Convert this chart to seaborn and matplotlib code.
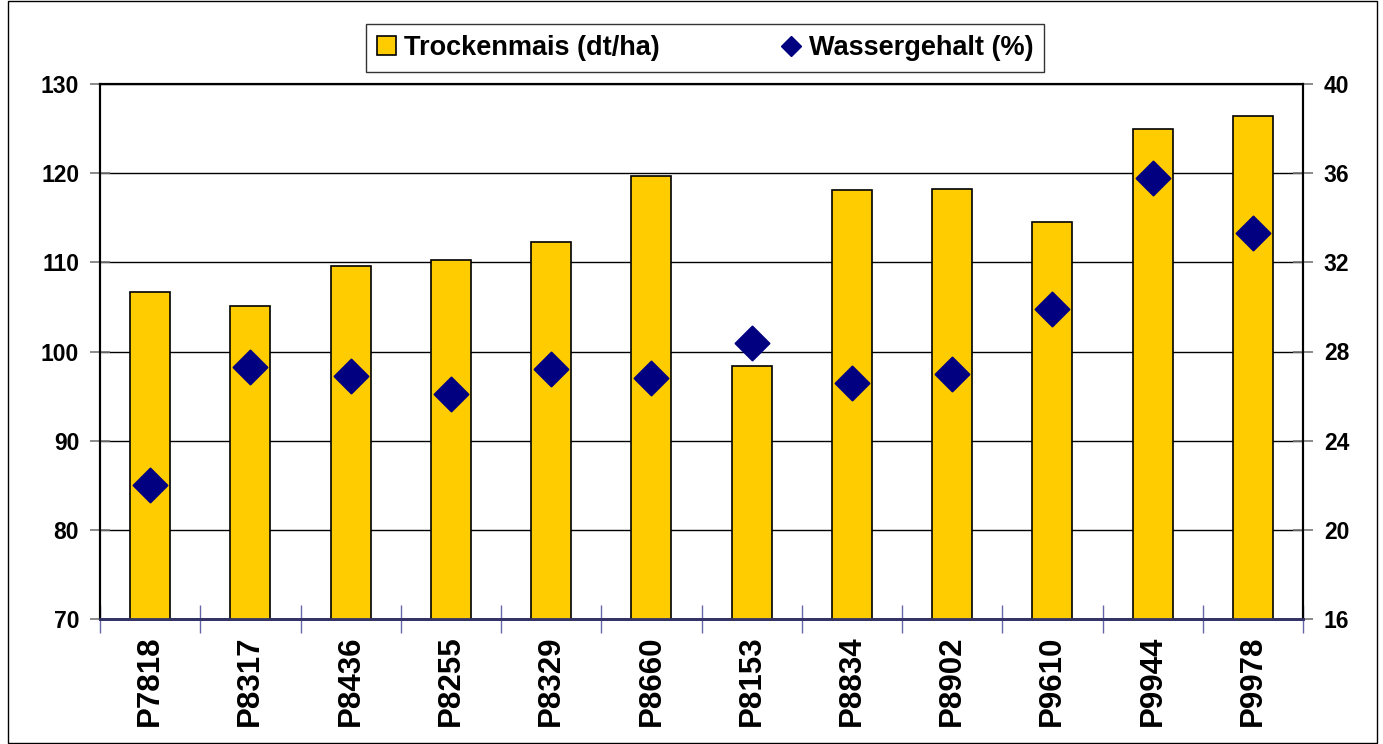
import pandas as pd
import seaborn as sns
import matplotlib.pyplot as plt
from matplotlib.lines import Line2D
from matplotlib.patches import Patch, Rectangle
from matplotlib.ticker import FixedLocator

# Sorten und Messwerte
sorten = ['P7818', 'P8317', 'P8436', 'P8255', 'P8329', 'P8660',
          'P8153', 'P8834', 'P8902', 'P9610', 'P9944', 'P9978']
trockenmais = [106.7, 105.1, 109.6, 110.3, 112.3, 119.7,
               98.4, 118.1, 118.2, 114.5, 124.9, 126.4]
wassergehalt = [22.0, 27.3, 26.9, 26.1, 27.2, 26.8,
                28.4, 26.6, 27.0, 29.9, 35.8, 33.3]

left_ticks = [70, 80, 90, 100, 110, 120, 130]
right_ticks = [16, 20, 24, 28, 32, 36, 40]

df = pd.DataFrame({'Sorte': sorten, 'Trockenmais': trockenmais,
                   'Wassergehalt': wassergehalt})

sns.set_style('white')
plt.rcParams['font.family'] = ['Liberation Sans', 'DejaVu Sans']
plt.rcParams['font.weight'] = 'bold'
plt.rcParams['text.color'] = 'black'

fig = plt.figure(figsize=(13.83, 7.44), dpi=100)
ax = fig.add_axes([100 / 1383, 1 - 619 / 744, 1203 / 1383, 535 / 744])

# Balken: Trockenmais (linke Achse)
sns.barplot(data=df, x='Sorte', y='Trockenmais', color='#FFCC00',
            saturation=1, width=0.4, edgecolor='black', linewidth=1.2,
            ax=ax, zorder=3)
ax.set_ylim(70, 130)
ax.set_xlim(-0.5, len(sorten) - 0.5)
ax.set_yticks(left_ticks)
ax.yaxis.grid(True, color='black', linewidth=1, zorder=0)
ax.set_axisbelow(True)
ax.set_xlabel('')
ax.set_ylabel('')

# Rauten: Wassergehalt (rechte Achse)
ax2 = ax.twinx()
sns.scatterplot(data=df, x='Sorte', y='Wassergehalt', marker='D', s=300,
                color='#000080', edgecolor='#000080', ax=ax2, zorder=5)
ax2.set_ylim(16, 40)
ax2.set_yticks(right_ticks)
ax2.set_ylabel('')
ax2.set_xlim(-0.5, len(sorten) - 0.5)

for a in (ax, ax2):
    for side in ('left', 'right', 'top'):
        a.spines[side].set_color('black')
        a.spines[side].set_linewidth(1.5)
    a.spines['bottom'].set_color('#333366')
    a.spines['bottom'].set_linewidth(2)

ax.tick_params(axis='y', labelsize=16.5, direction='inout', length=14,
               color='#777777', labelcolor='black', width=1.2, left=True, pad=8)
ax2.tick_params(axis='y', labelsize=16.5, direction='inout', length=14,
                color='#777777', labelcolor='black', width=1.2, right=True, pad=8)
for lab in ax.get_yticklabels() + ax2.get_yticklabels():
    lab.set_fontweight('bold')

# Kategorie-Trennstriche an der x-Achse
ax.xaxis.set_minor_locator(FixedLocator([i - 0.5 for i in range(len(sorten) + 1)]))
ax.tick_params(axis='x', which='minor', direction='inout', length=20,
               color='#6666AA', width=1, bottom=True)
ax.tick_params(axis='x', which='major', length=0, labelsize=22.5, pad=12,
               labelcolor='black')
ax.set_xticks(range(len(sorten)))
ax.set_xticklabels(sorten, rotation=90, fontweight='bold')

handles = [Patch(facecolor='#FFCC00', edgecolor='black', linewidth=1.2,
                 label='Trockenmais (dt/ha)'),
           Line2D([], [], marker='D', color='#000080', linestyle='',
                  markersize=10, label='Wassergehalt (%)')]
leg = fig.legend(handles=handles, loc='center', bbox_to_anchor=(705 / 1383, 1 - 48 / 744),
                 ncol=2, frameon=True, fancybox=False, edgecolor='black',
                 prop={'size': 19.5, 'weight': 'bold'}, handlelength=0.7,
                 handleheight=0.7, handletextpad=0.3, columnspacing=4.5,
                 borderpad=0.4, borderaxespad=0)
leg.get_frame().set_linewidth(1)
leg.set_zorder(10)

# äußerer Rahmen
fig.patches.append(Rectangle((8 / 1383, 0.001), 1369 / 1383, 0.997,
                             transform=fig.transFigure, fill=False,
                             edgecolor='black', linewidth=1))

fig.savefig('out.png', dpi=100)
